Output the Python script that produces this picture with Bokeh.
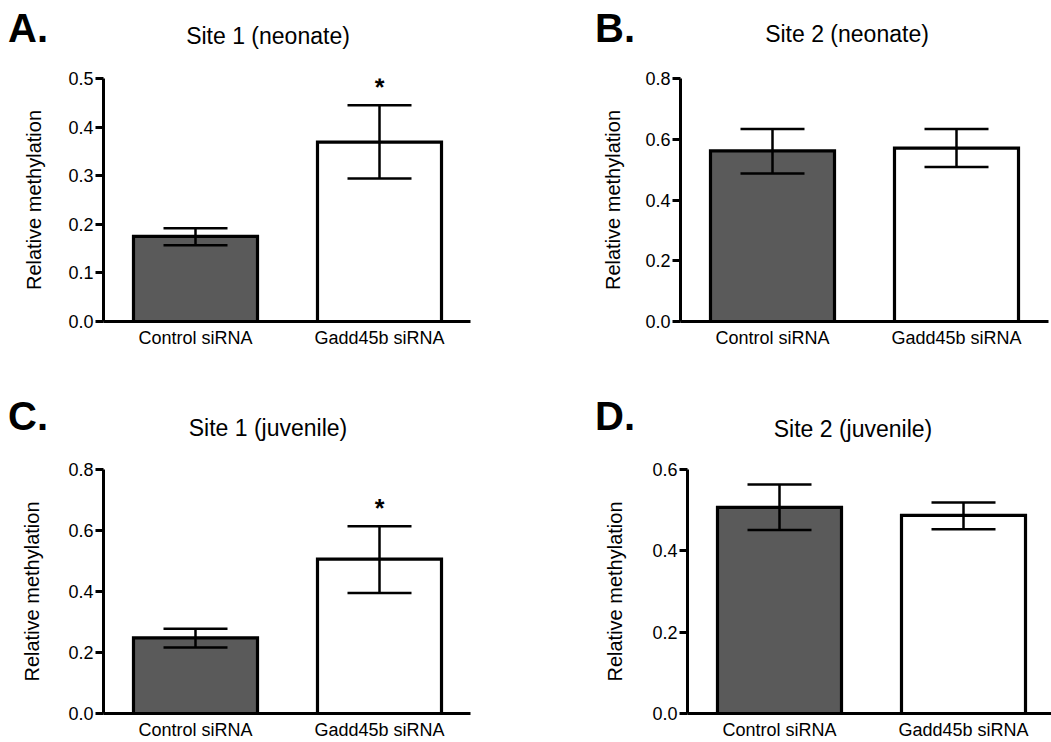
from bokeh.plotting import figure
from bokeh.models import Range1d, FixedTicker, PrintfTickFormatter, Whisker, TeeHead, ColumnDataSource, Div
from bokeh.layouts import column, row
from bokeh.embed import file_html
from bokeh.resources import INLINE
from bokeh.core.properties import value

categories = ["Control siRNA", "Gadd45b siRNA"]
bar_colors = ["#5a5a5a", "#ffffff"]

letters = ["A.", "B.", "C.", "D."]
titles = ["Site 1 (neonate)", "Site 2 (neonate)", "Site 1 (juvenile)", "Site 2 (juvenile)"]

s1_neo_mean = [0.175, 0.369]
s1_neo_low = [0.157, 0.294]
s1_neo_high = [0.192, 0.445]
s1_neo_sig = ["", "*"]

s2_neo_mean = [0.562, 0.571]
s2_neo_low = [0.487, 0.509]
s2_neo_high = [0.634, 0.634]
s2_neo_sig = ["", ""]

s1_juv_mean = [0.248, 0.506]
s1_juv_low = [0.216, 0.395]
s1_juv_high = [0.278, 0.614]
s1_juv_sig = ["", "*"]

s2_juv_mean = [0.507, 0.487]
s2_juv_low = [0.451, 0.453]
s2_juv_high = [0.563, 0.519]
s2_juv_sig = ["", ""]

ticks_a = [0.0, 0.1, 0.2, 0.3, 0.4, 0.5]
ticks_b = [0.0, 0.2, 0.4, 0.6, 0.8]
ticks_c = [0.0, 0.2, 0.4, 0.6, 0.8]
ticks_d = [0.0, 0.2, 0.4, 0.6]

FONT = "Liberation Sans"
UNIT_PX = 184.0   # pixels per category slot
FRAME_H = 245


def header(letter, title, width, height, letter_left, letter_top, title_center, title_top):
    html = (
        f'<div style="position:relative;width:{width}px;height:{height}px;'
        f'font-family:\'{FONT}\';color:black;">'
        f'<span style="position:absolute;left:{letter_left}px;top:{letter_top}px;'
        f'font-size:40px;font-weight:bold;line-height:1;white-space:nowrap;">{letter}</span>'
        f'<span style="position:absolute;left:{title_center}px;top:{title_top}px;'
        f'transform:translateX(-50%);font-size:23px;line-height:1;white-space:nowrap;">{title}</span>'
        f'</div>'
    )
    return Div(text=html, width=width, height=height, margin=(0, 0, 0, 0))


def panel(mean, low, high, sig, ticks, width, height, left, right, top, label_standoff):
    frame_w = width - left - right
    bottom = height - top - FRAME_H
    x_end = frame_w / UNIT_PX
    xs = [i + 0.5 for i in range(len(categories))]
    src = ColumnDataSource(dict(x=xs, mean=mean, low=low, high=high, color=bar_colors,
                                sig=sig, cat=categories))
    p = figure(width=width, height=height, output_backend="svg", toolbar_location=None,
               x_range=Range1d(0, x_end), y_range=Range1d(ticks[0], ticks[-1]),
               min_border_left=left, min_border_right=right, min_border_top=top,
               min_border_bottom=bottom)
    p.outline_line_color = None
    p.grid.visible = False
    p.background_fill_color = "white"
    p.border_fill_color = "white"

    p.vbar(x="x", top="mean", bottom=0, width=0.674, fill_color="color", line_color="black",
           line_width=3.2, line_join="miter", source=src)
    w = Whisker(source=src, base="x", upper="high", lower="low", line_width=2.5, line_color="black",
                upper_head=TeeHead(size=64, line_width=2.5, line_color="black"),
                lower_head=TeeHead(size=64, line_width=2.5, line_color="black"),
                level="overlay")
    p.add_layout(w)
    p.text(x="x", y="high", text="sig", source=src, text_font=value(FONT), text_font_style="bold",
           text_font_size="25px", text_align="center", text_baseline="bottom", text_color="black",
           y_offset=-4)

    p.yaxis.ticker = FixedTicker(ticks=ticks)
    p.yaxis.formatter = PrintfTickFormatter(format="%.1f")
    p.yaxis.axis_label = "Relative methylation"
    p.yaxis.axis_label_text_font = FONT
    p.yaxis.axis_label_text_font_style = "normal"
    p.yaxis.axis_label_text_font_size = "20px"
    p.yaxis.axis_label_text_color = "black"
    p.yaxis.axis_label_standoff = label_standoff
    p.yaxis.major_label_text_font = FONT
    p.yaxis.major_label_text_font_size = "18px"
    p.yaxis.major_label_text_color = "black"
    p.yaxis.major_label_standoff = 2
    p.yaxis.major_tick_out = 8
    p.yaxis.major_tick_in = 0
    p.yaxis.major_tick_line_width = 3
    p.yaxis.minor_tick_line_color = None
    p.yaxis.axis_line_width = 3

    p.xaxis.ticker = FixedTicker(ticks=xs)
    p.xaxis.major_label_overrides = {x: c for x, c in zip(xs, categories)}
    p.xaxis.major_label_text_font = FONT
    p.xaxis.major_label_text_font_size = "18px"
    p.xaxis.major_label_text_color = "black"
    p.xaxis.major_label_standoff = 6
    p.xaxis.major_tick_out = 0
    p.xaxis.major_tick_in = 0
    p.xaxis.minor_tick_line_color = None
    p.xaxis.axis_line_width = 3
    return p


# row 1: header 50 + figure 320 = 370 ; row 2: header 72 + figure 300 = 372
ha = header(letters[0], titles[0], 570, 50, 8, 8, 268, 25)
hb = header(letters[1], titles[1], 481, 50, 25, 8, 277, 23)
hc = header(letters[2], titles[2], 570, 72, 8, 26, 268, 47)
hd = header(letters[3], titles[3], 481, 72, 25, 26, 283, 48)

pa = panel(s1_neo_mean, s1_neo_low, s1_neo_high, s1_neo_sig, ticks_a, 570, 320, 103, 100, 28, 20)
pb = panel(s2_neo_mean, s2_neo_low, s2_neo_high, s2_neo_sig, ticks_b, 481, 320, 110, 3, 26, 18)
pc = panel(s1_juv_mean, s1_juv_low, s1_juv_high, s1_juv_sig, ticks_c, 570, 300, 103, 100, 27, 22)
pd = panel(s2_juv_mean, s2_juv_low, s2_juv_high, s2_juv_sig, ticks_d, 481, 300, 117, 0, 27, 23)

layout = column(row(ha, hb), row(pa, pb), row(hc, hd), row(pc, pd))
open("out.html", "w").write(file_html(layout, INLINE))
